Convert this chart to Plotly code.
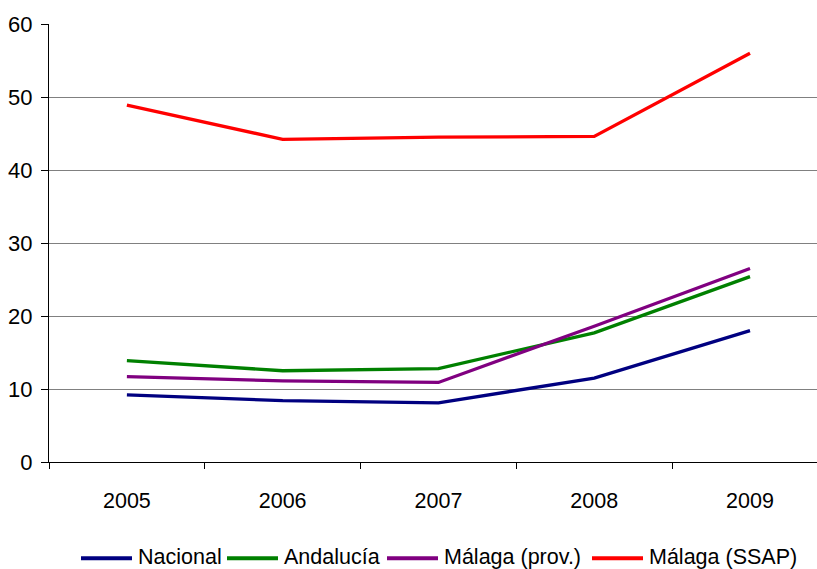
import plotly.graph_objects as go

years = ["2005", "2006", "2007", "2008", "2009"]
nacional = [9.2, 8.4, 8.1, 11.5, 18.0]
andalucia = [13.9, 12.5, 12.8, 17.7, 25.4]
malaga_prov = [11.7, 11.1, 10.9, 18.6, 26.5]
malaga_ssap = [48.9, 44.2, 44.5, 44.6, 56.0]

series_names = ["Nacional", "Andalucía", "Málaga (prov.)", "Málaga (SSAP)"]
series_values = [nacional, andalucia, malaga_prov, malaga_ssap]
series_colors = ["#000080", "#008000", "#800080", "#FF0000"]

font_family = "Arial, 'Liberation Sans', sans-serif"

# plot-area geometry in pixels (used to place the hand-built legend)
W, H = 817, 569
ML, MR, MT, MB = 49, 0, 23.5, 106.5
PW, PH = W - ML - MR, H - MT - MB


def px_x(p):
    return (p - ML) / PW


def px_y(p):
    return (H - MB - p) / PH


fig = go.Figure()
for name, vals, color in zip(series_names, series_values, series_colors):
    fig.add_trace(go.Scatter(
        x=years, y=vals, name=name, mode="lines",
        line=dict(color=color, width=3.3),
        showlegend=False,
    ))

# legend row: long line swatch followed by its label
legend_starts = [81, 227, 387, 592]
swatch_len = 51
legend_y = 559
shapes, annotations = [], []
for start, name, color in zip(legend_starts, series_names, series_colors):
    shapes.append(dict(
        type="line", xref="paper", yref="paper",
        x0=px_x(start), x1=px_x(start + swatch_len),
        y0=px_y(legend_y), y1=px_y(legend_y),
        line=dict(color=color, width=4),
    ))
    annotations.append(dict(
        xref="paper", yref="paper",
        x=px_x(start + swatch_len + 4), y=px_y(legend_y - 1.5),
        xanchor="left", yanchor="middle", showarrow=False,
        text=name, font=dict(size=21.5, color="#000000"),
    ))

fig.update_layout(
    width=W, height=H,
    margin=dict(l=ML, r=MR, t=MT, b=MB, pad=0),
    paper_bgcolor="white", plot_bgcolor="white",
    font=dict(family=font_family, size=21.5, color="#000000"),
    showlegend=False,
    shapes=shapes,
    annotations=annotations,
)

fig.update_xaxes(
    type="category", range=[-0.5, 4.43], tickson="boundaries",
    showgrid=False, showline=True, linecolor="#000000", linewidth=1.3,
    ticks="outside", ticklen=6, tickcolor="#000000", tickwidth=1,
    ticklabelstandoff=19, zeroline=False,
    tickfont=dict(size=21.5),
)
fig.update_yaxes(
    range=[0, 60], tickvals=[0, 10, 20, 30, 40, 50, 60],
    showgrid=True, gridcolor="#808080", gridwidth=1,
    showline=True, linecolor="#000000", linewidth=1.3,
    ticks="outside", ticklen=7, tickcolor="#000000", tickwidth=1,
    ticklabelstandoff=4, zeroline=False,
    tickfont=dict(size=22),
)

fig.write_html("out.html")
